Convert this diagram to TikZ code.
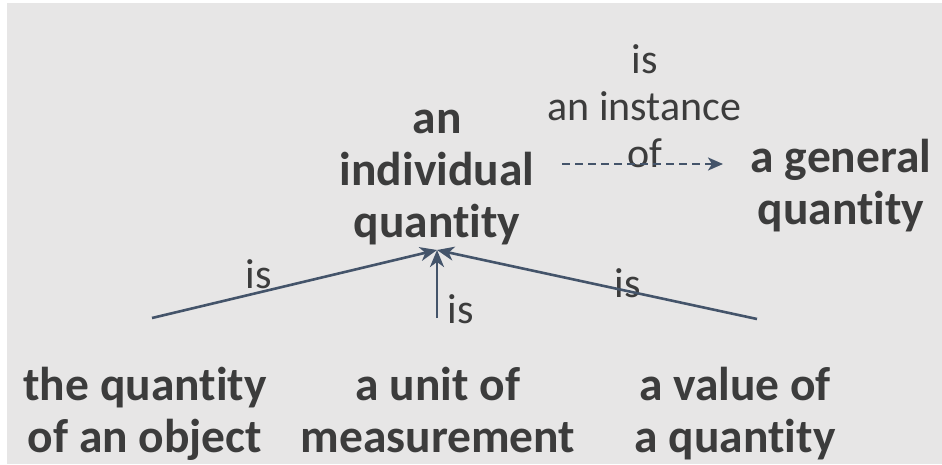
\documentclass[tikz,border=0pt]{standalone}
\usepackage{fontspec}
\setmainfont{Carlito}[Ligatures=NoCommon]
\usetikzlibrary{arrows.meta}
\definecolor{bgfill}{HTML}{E7E6E6}
\definecolor{txt}{HTML}{3C3C3C}
\definecolor{edge}{HTML}{44546A}
\newcommand{\mlines}[1]{\begin{tabular}[t]{@{}c@{}}#1\end{tabular}}
\tikzset{
  concept/.style={inner sep=0pt, anchor=base, text=txt, font=\bfseries\fontsize{47.5}{52}\selectfont},
  lbl/.style={inner sep=0pt, anchor=base, text=txt, font=\fontsize{42}{47}\selectfont},
  link/.style={draw=edge, line width=2.6pt, -{Stealth[length=17pt,width=14pt,inset=5pt]}},
  instlink/.style={draw=edge, line width=2.4pt, dash pattern=on 8pt off 5pt, -{Stealth[length=15pt,width=13pt,inset=4pt]}},
}
\begin{document}
\begin{tikzpicture}[x=1pt,y=-1pt]
\useasboundingbox (0,0) rectangle (942,464);
\fill[white] (0,0) rectangle (942,464);
\fill[bgfill] (7,3) rectangle (942,464);

% concepts
\node[concept] (iq) at (437,133) {\mlines{an\\individual\\quantity}};
\node[concept] (gq) at (841,172) {\mlines{a general\\quantity}};
\node[concept] (qobj) at (145,400) {\mlines{the quantity\\of an object}};
\node[concept] (unit) at (438,400) {\mlines{a unit of\\measurement}};
\node[concept] (val) at (735,400) {\mlines{a value of\\a quantity}};

% connector end points
\coordinate (iqfoot) at (437,250);
\coordinate (qobjtop) at (152,318);
\coordinate (unittop) at (437,318);
\coordinate (valtop) at (757,319);
\coordinate (instfrom) at (562,164);
\coordinate (instto) at (723,164);

% labels
\node[lbl] (linst) at (644.5,73) {\mlines{is\\an instance\\of}};
\node[lbl] (lleft) at (259,288) {is};
\node[lbl] (lmid) at (460.5,323) {is};
\node[lbl] (lright) at (627.5,297) {is};

% connectors
\draw[instlink] (instfrom) -- (instto);
\draw[link] (qobjtop) -- (iqfoot);
\draw[link] (unittop) -- (iqfoot);
\draw[link] (valtop) -- (iqfoot);
\end{tikzpicture}
\end{document}
